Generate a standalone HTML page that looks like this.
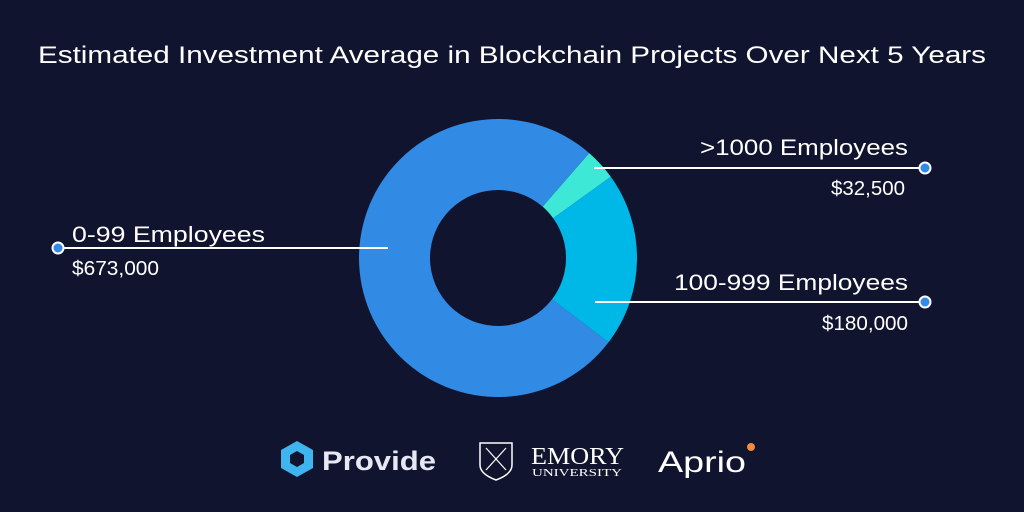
<!DOCTYPE html>
<html><head><meta charset="utf-8"><style>
html,body{margin:0;padding:0;background:#10142e;}
svg{display:block;font-family:"Liberation Sans",sans-serif;}
</style></head><body>
<svg width="1024" height="512" viewBox="0 0 1024 512">
<rect width="1024" height="512" fill="#10142e"/>
<text x="38" y="63" font-size="24" fill="#fff" textLength="948" lengthAdjust="spacingAndGlyphs">Estimated Investment Average in Blockchain Projects Over Next 5 Years</text>
<g id="donut"></g>
<g>
<line x1="57" y1="248" x2="388" y2="248" stroke="#fff" stroke-width="2"/>
<circle cx="58" cy="248" r="5.5" fill="#318be4" stroke="#fff" stroke-width="2"/>
<text x="72" y="242" font-size="22" fill="#fff" textLength="193" lengthAdjust="spacingAndGlyphs">0-99 Employees</text>
<text x="72" y="275" font-size="20" fill="#fff" textLength="87" lengthAdjust="spacingAndGlyphs">$673,000</text>
</g>
<g>
<line x1="594" y1="168" x2="925" y2="168" stroke="#fff" stroke-width="2"/>
<circle cx="925" cy="168" r="5.5" fill="#318be4" stroke="#fff" stroke-width="2"/>
<text x="908" y="155" font-size="22" fill="#fff" text-anchor="end" textLength="208" lengthAdjust="spacingAndGlyphs">&gt;1000 Employees</text>
<text x="905" y="195" font-size="20" fill="#fff" text-anchor="end" textLength="74" lengthAdjust="spacingAndGlyphs">$32,500</text>
</g>
<g>
<line x1="595" y1="302" x2="925" y2="302" stroke="#fff" stroke-width="2"/>
<circle cx="925" cy="302" r="5.5" fill="#318be4" stroke="#fff" stroke-width="2"/>
<text x="908" y="290" font-size="22" fill="#fff" text-anchor="end" textLength="234" lengthAdjust="spacingAndGlyphs">100-999 Employees</text>
<text x="908" y="330" font-size="20" fill="#fff" text-anchor="end" textLength="86" lengthAdjust="spacingAndGlyphs">$180,000</text>
</g>
<g>
<polygon points="297,441 313,450 313,468 297,477 281,468 281,450" fill="#3fb5f0"/>
<polygon points="297,451 304,455 304,463 297,467 290,463 290,455" fill="#10142e"/>
<text x="322" y="470" font-size="27" font-weight="bold" fill="#e8e8f4" textLength="114" lengthAdjust="spacingAndGlyphs">Provide</text>
</g>
<g>
<path d="M480,443 L512,443 L512,465 Q512,474 496,480 Q480,474 480,465 Z" fill="none" stroke="#fff" stroke-width="1.5"/>
<line x1="486" y1="448" x2="506" y2="470" stroke="#fff" stroke-width="1.2"/>
<line x1="506" y1="448" x2="486" y2="470" stroke="#fff" stroke-width="1.2"/>
<text x="531" y="464" font-family="Liberation Serif,serif" font-size="24" fill="#fff" textLength="93" lengthAdjust="spacingAndGlyphs">EMORY</text>
<text x="532" y="476" font-family="Liberation Serif,serif" font-size="10" fill="#fff" textLength="90" lengthAdjust="spacingAndGlyphs">UNIVERSITY</text>
</g>
<g>
<text x="658" y="472" font-size="30" fill="#fff" textLength="88" lengthAdjust="spacingAndGlyphs">Aprio</text>
<circle cx="751" cy="447" r="4" fill="#f08a3c"/>
</g>
</svg>
<script>
const categories = ["0-99 Employees", "100-999 Employees", ">1000 Employees"];
const values = [673000, 180000, 32500];
const colors = ["#318be4", "#00b8e8", "#3de8d6"];
const cx = 498, cy = 258, rOut = 139, rIn = 68;
const order = [2, 1, 0];
const startDeg = 41;
const total = values.reduce((a, b) => a + b, 0);
const g = document.getElementById('donut');
function pt(r, deg) { const a = (deg - 90) * Math.PI / 180; return [cx + r * Math.cos(a), cy + r * Math.sin(a)]; }
let ang = startDeg;
order.forEach(i => {
  const sweep = values[i] / total * 360;
  const a0 = ang, a1 = ang + sweep;
  const large = sweep > 180 ? 1 : 0;
  const p1 = pt(rOut, a0), p2 = pt(rOut, a1), p3 = pt(rIn, a1), p4 = pt(rIn, a0);
  const d = `M${p1[0]},${p1[1]} A${rOut},${rOut} 0 ${large} 1 ${p2[0]},${p2[1]} L${p3[0]},${p3[1]} A${rIn},${rIn} 0 ${large} 0 ${p4[0]},${p4[1]} Z`;
  const path = document.createElementNS('http://www.w3.org/2000/svg', 'path');
  path.setAttribute('d', d);
  path.setAttribute('fill', colors[i]);
  
  
  g.appendChild(path);
  ang = a1;
});
</script>
</body></html>
